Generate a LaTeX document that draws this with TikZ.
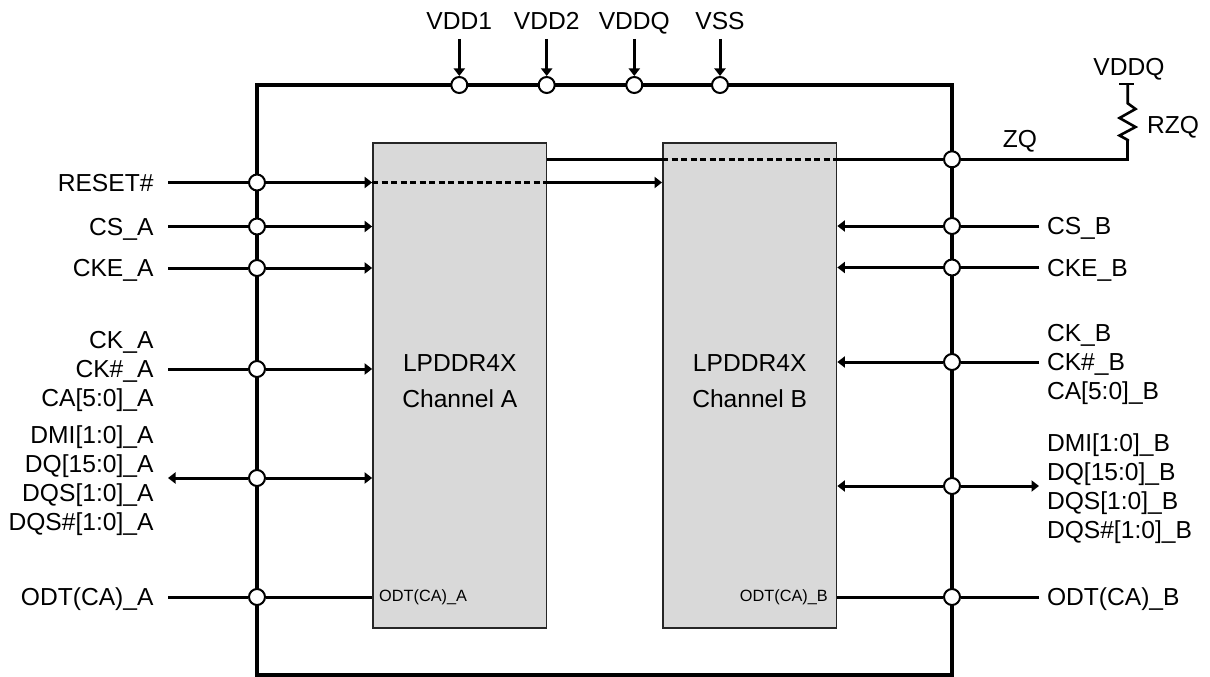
\documentclass[tikz,border=0pt]{standalone}
\usepackage{fontspec}
\setmainfont{Liberation Sans}
\usetikzlibrary{arrows.meta}
\begin{document}
\begin{tikzpicture}[x=1pt,y=-1pt,
  txt/.style={inner sep=0pt, outer sep=0pt, font=\fontsize{24.6pt}{29pt}\selectfont},
  one/.style={txt, text height=17.6pt, text depth=0pt},
  lblL/.style={one, anchor=east, outer xsep=14.5pt},
  lblR/.style={one, anchor=west, outer xsep=8pt},
  grpL/.style={txt, align=right, anchor=east, outer xsep=14.5pt},
  grpR/.style={txt, align=left, anchor=west, outer xsep=8pt},
  top/.style={one, anchor=south, outer ysep=9.7pt},
  small/.style={inner sep=0pt, font=\fontsize{16.3pt}{19pt}\selectfont},
  pin/.style={circle, draw=black, fill=white, line width=2pt, minimum size=16pt, inner sep=0pt},
  chan/.style={draw=black!85, fill=black!15, line width=1.6pt, minimum width=173.7pt, minimum height=485pt, inner sep=0pt},
  chtxt/.style={inner sep=0pt, align=center, font=\fontsize{24.6pt}{36.3pt}\selectfont},
  pkg/.style={draw=black, line width=4.8pt, minimum width=695pt, minimum height=590pt, inner sep=0pt},
  sig/.style={line width=3pt},
  tipA/.tip={Triangle[length=7.5pt,width=11pt]},
  arr/.style={sig, -tipA},
  larr/.style={sig, tipA-},
  dsh/.style={line width=2.6pt, dash pattern=on 6pt off 3.5pt},
  res/.style={line width=2.6pt, line join=miter}]

\useasboundingbox (0,0) rectangle (1210,677);

% package outline
\node[pkg] (pkg) at (604.5,380) {};

% channels
\node[chan] (chA) at (459.8,385.5) {};
\node[chan] (chB) at (749.7,385.5) {};
\node[chtxt] (chAt) at (459.8,381.2) {LPDDR4X\\Channel A};
\node[chtxt] (chBt) at (749.7,381.2) {LPDDR4X\\Channel B};
\node[small, anchor=west] (odtAin) at (379,597) {ODT(CA)\_A};
\node[small, anchor=east] (odtBin) at (828,597) {ODT(CA)\_B};

% pins: top
\node[pin] (pV1) at (459.3,85) {};
\node[pin] (pV2) at (546.7,85) {};
\node[pin] (pVQ) at (634.3,85) {};
\node[pin] (pVS) at (720,85) {};
% pins: left
\node[pin] (pRST) at (257,182.5) {};
\node[pin] (pCSA) at (257,226.5) {};
\node[pin] (pCKEA) at (257,268) {};
\node[pin] (pCKA) at (257,369) {};
\node[pin] (pDQA) at (257,478) {};
\node[pin] (pODTA) at (257,597) {};
% pins: right
\node[pin] (pZQ) at (952,159.3) {};
\node[pin] (pCSB) at (952,226) {};
\node[pin] (pCKEB) at (952,267.5) {};
\node[pin] (pCKB) at (952,362) {};
\node[pin] (pDQB) at (952,486) {};
\node[pin] (pODTB) at (952,597) {};

% labels: top
\node[top] (lV1) at (459.3,39) {VDD1};
\node[top] (lV2) at (546.7,39) {VDD2};
\node[top] (lVQ) at (634.3,39) {VDDQ};
\node[top] (lVS) at (720,39) {VSS};
% labels: left
\node[lblL] (lRST) at (168,182.5) {RESET\#};
\node[lblL] (lCSA) at (168,226.5) {CS\_A};
\node[lblL] (lCKEA) at (168,268) {CKE\_A};
\node[grpL] (lCKA) at (168,371.4) {CK\_A\\CK\#\_A\\CA[5:0]\_A};
\node[grpL] (lDQA) at (168,480.4) {DMI[1:0]\_A\\DQ[15:0]\_A\\DQS[1:0]\_A\\DQS\#[1:0]\_A};
\node[lblL] (lODTA) at (168,597) {ODT(CA)\_A};
% labels: right
\node[lblR] (lCSB) at (1039,226) {CS\_B};
\node[lblR] (lCKEB) at (1039,267.5) {CKE\_B};
\node[grpR] (lCKB) at (1039,364.4) {CK\_B\\CK\#\_B\\CA[5:0]\_B};
\node[grpR] (lDQB) at (1039,488.4) {DMI[1:0]\_B\\DQ[15:0]\_B\\DQS[1:0]\_B\\DQS\#[1:0]\_B};
\node[lblR] (lODTB) at (1039,597) {ODT(CA)\_B};
% ZQ / resistor labels
\node[txt, anchor=base] (lZQ) at (1020,147) {ZQ};
\node[txt, anchor=base west] (lRZQ) at (1147,133.5) {RZQ};
\node[txt, anchor=base] (lVDDQr) at (1129,75) {VDDQ};

% top supply arrows
\draw[arr] (lV1) -- (pV1);
\draw[arr] (lV2) -- (pV2);
\draw[arr] (lVQ) -- (pVQ);
\draw[arr] (lVS) -- (pVS);

% left side signals
\draw[sig] (lRST) -- (pRST);
\draw[arr] (pRST) -- (pRST -| chA.west);
\draw[dsh] (pRST -| chA.west) -- (pRST -| chA.east);
\draw[arr] (pRST -| chA.east) -- (pRST -| chB.west);

\draw[sig] (lCSA) -- (pCSA);
\draw[arr] (pCSA) -- (pCSA -| chA.west);
\draw[sig] (lCKEA) -- (pCKEA);
\draw[arr] (pCKEA) -- (pCKEA -| chA.west);
\draw[sig] (lCKA.east |- pCKA) -- (pCKA);
\draw[arr] (pCKA) -- (pCKA -| chA.west);
\draw[larr] (lDQA.east |- pDQA) -- (pDQA);
\draw[arr] (pDQA) -- (pDQA -| chA.west);
\draw[sig] (lODTA) -- (pODTA);
\draw[sig] (pODTA) -- (pODTA -| chA.west);

% right side signals
\draw[sig] (lCSB) -- (pCSB);
\draw[arr] (pCSB) -- (pCSB -| chB.east);
\draw[sig] (lCKEB) -- (pCKEB);
\draw[arr] (pCKEB) -- (pCKEB -| chB.east);
\draw[sig] (lCKB.west |- pCKB) -- (pCKB);
\draw[arr] (pCKB) -- (pCKB -| chB.east);
\draw[arr] (pDQB) -- (lDQB.west |- pDQB);
\draw[arr] (pDQB) -- (pDQB -| chB.east);
\draw[sig] (lODTB) -- (pODTB);
\draw[sig] (pODTB) -- (pODTB -| chB.east);

% ZQ line
\draw[sig] (pZQ -| chA.east) -- (pZQ -| chB.west);
\draw[dsh] (pZQ -| chB.west) -- (pZQ -| chB.east);
\draw[sig] (pZQ -| chB.east) -- (pZQ);
\coordinate (rz) at (1127.7,159.3);
\coordinate (rtop) at (1127.7,84);
\draw[sig, line join=miter] (pZQ) -- (rz) -- (1127.7,140);
\draw[res] (1127.7,141) -- (1127.7,140) -- (1119.5,135.5) -- (1135.5,127) -- (1119.5,118) -- (1135.5,109) -- (1127.7,103.3) -- (rtop);
\draw[res] (1119.3,84) -- (1134.1,84);
\end{tikzpicture}
\end{document}
